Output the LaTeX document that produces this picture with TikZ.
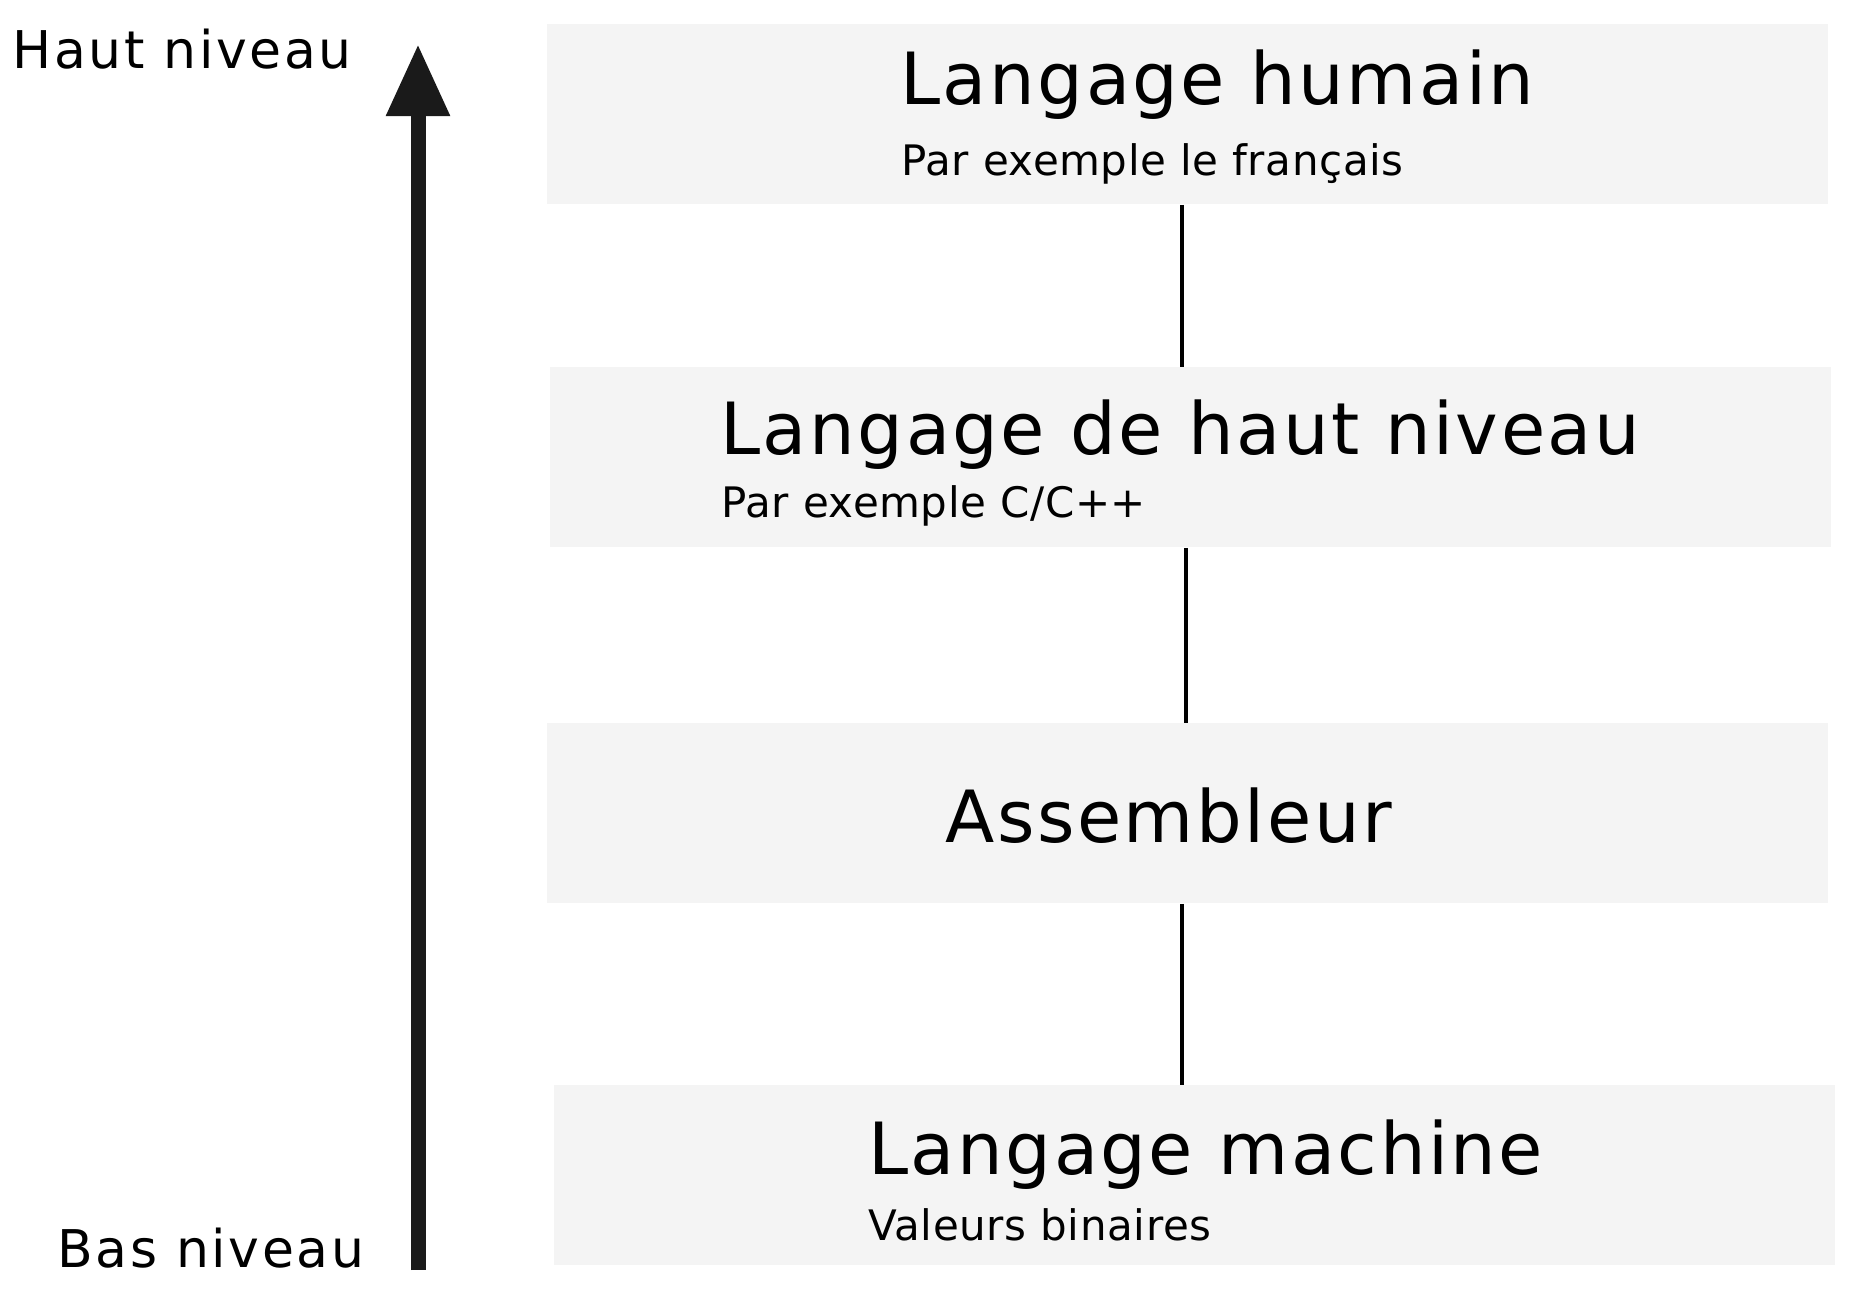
\documentclass[tikz,border=0pt]{standalone}
\usepackage{fontspec}
\setmainfont{DejaVu Sans}
\newfontfamily\titlefont[LetterSpace=3.5]{DejaVu Sans}
\newfontfamily\subfont[LetterSpace=1.5]{DejaVu Sans}
\newfontfamily\sidefont[LetterSpace=5]{DejaVu Sans}
\usetikzlibrary{arrows.meta}
\definecolor{boxgray}{HTML}{F4F4F4}
\definecolor{arrowgray}{HTML}{1A1A1A}

\begin{document}
\begin{tikzpicture}[x=0.5pt,y=-0.5pt,
  level/.style={fill=boxgray,draw=none,minimum width=640.5pt,minimum height=90pt,inner sep=0pt,anchor=north west},
  title/.style={anchor=base west,inner sep=0pt,font=\titlefont\fontsize{36}{36}\selectfont},
  sub/.style={anchor=base west,inner sep=0pt,font=\subfont\fontsize{21}{21}\selectfont},
  side/.style={anchor=base west,inner sep=0pt,font=\sidefont\fontsize{26}{26}\selectfont},
  link/.style={line width=2pt},
  rise/.style={line width=7.5pt,arrowgray,-{Triangle[width=30pt,length=36pt]}}]
\useasboundingbox (0,0) rectangle (1852,1296);

\node[level] (human) at (547,24) {};
\node[level] (high) at (550,367) {};
\node[level] (asm) at (547,723) {};
\node[level] (machine) at (554,1085) {};

\node[title] (humanT) at (900,104) {Langage humain};
\node[sub] (humanS) at (901,175) {Par exemple le français};
\node[title] (highT) at (720,454) {Langage de haut niveau};
\node[sub] (highS) at (721,517) {Par exemple C/C++};
\node[title] (asmT) at (945,842) {Assembleur};
\node[title] (machineT) at (868,1174) {Langage machine};
\node[sub] (machineS) at (868,1240) {Valeurs binaires};

\draw[link] ([xshift=-2.75pt]human.south) -- ([xshift=-2.75pt]human.south |- high.north);
\draw[link] ([xshift=-2.5pt]high.south) -- ([xshift=-2.5pt]high.south |- asm.north);
\draw[link] ([xshift=-2.75pt]asm.south) -- ([xshift=-2.75pt]asm.south |- machine.north);

\coordinate (low) at (418,1270);
\coordinate (top) at (418,44);
\draw[rise] (low) -- (top);
\node[side] (haut) at (12,68) {Haut niveau};
\node[side] (bas) at (57,1267) {Bas niveau};
\end{tikzpicture}
\end{document}
